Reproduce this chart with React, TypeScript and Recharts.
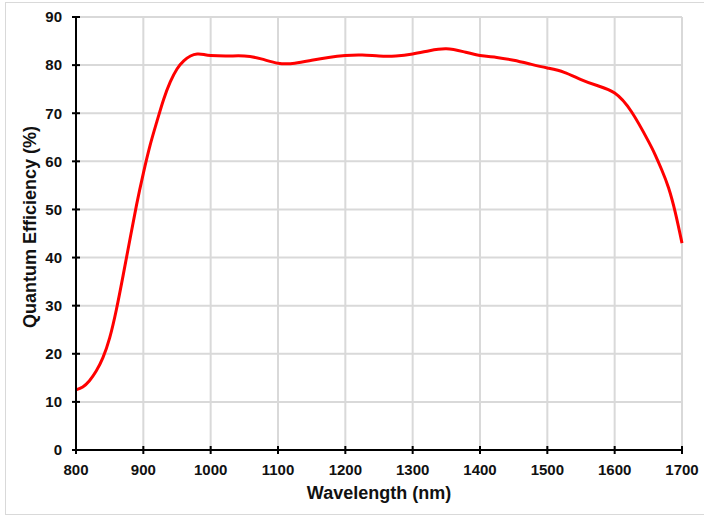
import React from 'react';
import { LineChart, Line, XAxis, YAxis, CartesianGrid } from 'recharts';

// wavelength (nm) and quantum efficiency (%)
const wavelengths = [
  800, 810, 820, 830, 840, 850, 860, 870, 880, 890, 900, 910, 920, 930, 940, 950, 960, 970, 980, 990,
  1000, 1025, 1050, 1075, 1100, 1125, 1150, 1175, 1200, 1225, 1250, 1275, 1300, 1325, 1350, 1375,
  1400, 1425, 1450, 1475, 1500, 1525, 1550, 1575, 1600, 1625, 1650, 1660, 1670, 1680, 1690, 1700,
];
const efficiency = [
  12.5, 13.1, 14.4, 16.4, 19.2, 23.3, 29.2, 36.3, 43.7, 51, 57.5, 63.3, 68.2, 72.8, 76.5, 79.2, 80.9, 81.9, 82.3, 82.2,
  82, 81.9, 81.9, 81.3, 80.4, 80.4, 81, 81.6, 82, 82.1, 81.9, 81.9, 82.3, 83, 83.4, 82.8,
  82, 81.6, 81, 80.2, 79.4, 78.5, 77, 75.7, 74.2, 70.3, 64.2, 61.4, 58.2, 54.5, 49.4, 43,
];
const xTicks = [800, 900, 1000, 1100, 1200, 1300, 1400, 1500, 1600, 1700];
const yTicks = [0, 10, 20, 30, 40, 50, 60, 70, 80, 90];

const data = wavelengths.map((w, i) => ({ w, qe: efficiency[i] }));

const FONT = '"Liberation Sans", Arial, sans-serif';
const INK = '#111';

const XTick = (props: any) => {
  const { x, y, payload } = props;
  return (
    <g>
      <line x1={x} x2={x} y1={y - 18} y2={y - 10} stroke="#000" strokeWidth={2} />
      <text x={x} y={y} dy="0.71em" textAnchor="middle" fontFamily={FONT} fontWeight="bold" fontSize={15} fill={INK}>
        {payload.value}
      </text>
    </g>
  );
};

const YTick = (props: any) => {
  const { x, y, payload } = props;
  return (
    <g>
      <line x1={x + 10} x2={x + 18} y1={y} y2={y} stroke="#000" strokeWidth={2} />
      <text x={x} y={y} dy="0.355em" textAnchor="end" fontFamily={FONT} fontWeight="bold" fontSize={15} fill={INK}>
        {payload.value}
      </text>
    </g>
  );
};

export default function App() {
  return (
    <div style={{ position: 'absolute', left: 0, top: 0, width: 704, height: 517, background: '#fff', overflow: 'hidden' }}>
      <div
        style={{
          position: 'absolute', left: 5, top: 2, width: 720, height: 513,
          border: '1px solid #d9d9d9', boxSizing: 'border-box',
        }}
      />
      <div style={{ position: 'absolute', left: 0, top: 0 }}>
        <LineChart width={704} height={517} data={data} margin={{ top: 17, right: 22, left: 0, bottom: 0 }}>
          <CartesianGrid stroke="#d9d9d9" strokeWidth={2} />
          <XAxis
            dataKey="w"
            type="number"
            domain={[800, 1700]}
            ticks={xTicks}
            interval={0}
            height={67}
            tickSize={4}
            tickMargin={10}
            tickLine={false}
            axisLine={{ stroke: '#000', strokeWidth: 2 }}
            tick={<XTick />}
            label={{
              content: () => (
                <text x={379} y={499} textAnchor="middle" fontFamily={FONT} fontWeight="bold" fontSize={18} fill={INK}>
                  Wavelength (nm)
                </text>
              ),
            }}
          />
          <YAxis
            type="number"
            domain={[0, 90]}
            ticks={yTicks}
            interval={0}
            width={76}
            tickSize={4}
            tickMargin={10}
            tickLine={false}
            axisLine={{ stroke: '#000', strokeWidth: 2 }}
            tick={<YTick />}
            label={{
              content: () => (
                <text
                  x={30}
                  y={227}
                  dy="0.355em"
                  transform="rotate(-90, 30, 227)"
                  textAnchor="middle"
                  fontFamily={FONT}
                  fontWeight="bold"
                  fontSize={18}
                  fill={INK}
                >
                  Quantum Efficiency (%)
                </text>
              ),
            }}
          />
          <Line
            type="natural"
            dataKey="qe"
            stroke="#ff0000"
            strokeWidth={3}
            dot={false}
            isAnimationActive={false}
          />
        </LineChart>
      </div>
    </div>
  );
}
